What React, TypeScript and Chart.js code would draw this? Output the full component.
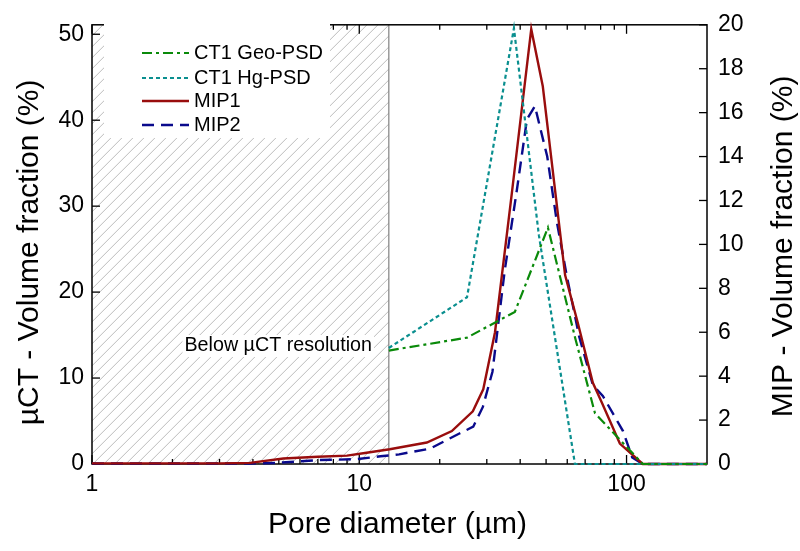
import React, { useEffect, useRef } from "react";
import { Chart, registerables } from "chart.js";
Chart.register(...registerables);

// ---- data ----
const geoX = [12.9, 25.3, 38.2, 50.8, 64.2, 76.2, 115, 200];
const geoY = [13.2, 14.7, 17.7, 27.5, 14.7, 5.9, 0, 0];

const hgX = [12.9, 25.3, 37.9, 47.0, 64.1, 100, 200];
const hgY = [13.5, 19.4, 50.7, 26.6, 0, 0, 0];

const mip1X = [1, 2, 3, 3.9, 5.2, 7, 9, 10.5, 13, 17.9, 22.2, 26.6, 29.1, 32.2, 37.2, 44, 48.6, 58.9, 65.8, 74.8, 80.8, 94.4, 115, 200];
const mip1Y = [0.03, 0.03, 0.03, 0.05, 0.25, 0.33, 0.38, 0.5, 0.67, 0.98, 1.5, 2.4, 3.4, 6.0, 12.3, 19.8, 17.2, 8.6, 6.4, 3.7, 2.8, 0.93, 0, 0];

const mip2X = [1, 2, 3, 3.9, 4.9, 7.1, 9.8, 12, 14.1, 18.4, 23.8, 26.7, 29, 31.5, 35, 38.9, 42.4, 45.4, 50.5, 54.9, 59.9, 66.5, 74.8, 81.5, 97, 105, 115, 200];
const mip2Y = [0.02, 0.02, 0.02, 0.02, 0.05, 0.18, 0.22, 0.35, 0.44, 0.7, 1.4, 1.7, 2.6, 4.2, 8.8, 12.5, 15.7, 16.3, 14.0, 11.0, 8.5, 5.8, 3.6, 3.1, 1.5, 0.3, 0, 0];

const xTickLabels = [1, 10, 100];
const xMinorTicks = [2, 3, 4, 5, 6, 7, 8, 9, 20, 30, 40, 50, 60, 70, 80, 90, 200];
const yLeftTicks = [0, 10, 20, 30, 40, 50];
const yRightTicks = [0, 2, 4, 6, 8, 10, 12, 14, 16, 18, 20];
const resolutionLimit = 12.9;

const labels = ["CT1 Geo-PSD", "CT1 Hg-PSD", "MIP1", "MIP2"];

const FONT = "'Liberation Sans', Arial, sans-serif";

const toPts = (xs: number[], ys: number[]) => xs.map((x, i) => ({ x, y: ys[i] }));

const decorPlugin = {
  id: "decor",
  beforeDatasetsDraw(chart: any) {
    const { ctx, chartArea: a, scales } = chart;
    const xs = scales.x;
    const bx = xs.getPixelForValue(resolutionLimit);
    ctx.save();
    // hatch
    ctx.save();
    ctx.beginPath();
    ctx.rect(a.left, a.top, bx - a.left, a.bottom - a.top);
    ctx.clip();
    ctx.strokeStyle = "#bcbcbc";
    ctx.lineWidth = 1;
    const h = a.bottom - a.top;
    for (let x0 = a.left - h; x0 < bx + 12; x0 += 11) {
      ctx.beginPath();
      ctx.moveTo(x0, a.bottom);
      ctx.lineTo(x0 + h, a.top);
      ctx.stroke();
    }
    ctx.restore();
    // boundary line
    ctx.strokeStyle = "#808080";
    ctx.lineWidth = 1.2;
    ctx.beginPath();
    ctx.moveTo(bx, a.top);
    ctx.lineTo(bx, a.bottom);
    ctx.stroke();
    // annotation
    ctx.font = `19.7px ${FONT}`;
    const txt = "Below \u00B5CT resolution";
    const w = ctx.measureText(txt).width;
    ctx.fillStyle = "#fff";
    ctx.fillRect(372 - w - 2, 335, w + 4, 22);
    ctx.fillStyle = "#000";
    ctx.textAlign = "right";
    ctx.textBaseline = "middle";
    ctx.fillText(txt, 372, 346);
    // frame
    ctx.strokeStyle = "#000";
    ctx.lineWidth = 1.5;
    ctx.strokeRect(a.left, a.top, a.right - a.left, a.bottom - a.top);
    // inward ticks
    ctx.lineWidth = 1.3;
    const tick = (x1: number, y1: number, x2: number, y2: number) => {
      ctx.beginPath();
      ctx.moveTo(x1, y1);
      ctx.lineTo(x2, y2);
      ctx.stroke();
    };
    xTickLabels.forEach((v) => {
      const p = xs.getPixelForValue(v);
      tick(p, a.bottom, p, a.bottom - 9);
      tick(p, a.top, p, a.top + 9);
    });
    xMinorTicks.forEach((v) => {
      const p = xs.getPixelForValue(v);
      if (p > a.right - 1) return;
      tick(p, a.bottom, p, a.bottom - 5);
      tick(p, a.top, p, a.top + 5);
    });
    yLeftTicks.forEach((v) => {
      const p = scales.y.getPixelForValue(v);
      tick(a.left, p, a.left + 8, p);
    });
    yRightTicks.forEach((v) => {
      const p = scales.y1.getPixelForValue(v);
      tick(a.right, p, a.right - 8, p);
    });
    ctx.restore();
  },
  afterDatasetsDraw(chart: any) {
    const { ctx, chartArea: a } = chart;
    ctx.save();
    // legend
    ctx.fillStyle = "#fff";
    ctx.fillRect(104, 24, 226, 114);
    const rows = [53, 78, 101, 125];
    chart.data.datasets.forEach((ds: any, i: number) => {
      const y = rows[i];
      ctx.strokeStyle = ds.borderColor;
      ctx.lineWidth = ds.borderWidth;
      ctx.setLineDash(ds.borderDash || []);
      ctx.beginPath();
      ctx.moveTo(142, y);
      ctx.lineTo(189, y);
      ctx.stroke();
      ctx.setLineDash([]);
      ctx.fillStyle = "#000";
      ctx.font = `20px ${FONT}`;
      ctx.textAlign = "left";
      ctx.textBaseline = "middle";
      ctx.fillText(ds.label, 194, y);
    });
    // axis titles
    ctx.fillStyle = "#000";
    ctx.font = `30px ${FONT}`;
    ctx.textAlign = "center";
    ctx.textBaseline = "middle";
    const cy = (a.top + a.bottom) / 2;
    ctx.save();
    ctx.translate(30, cy + 8);
    ctx.rotate(-Math.PI / 2);
    ctx.fillText("\u00B5CT - Volume fraction (%)", 0, 0);
    ctx.restore();
    ctx.save();
    ctx.translate(784, cy + 2);
    ctx.rotate(-Math.PI / 2);
    ctx.fillText("MIP - Volume fraction (%)", 0, 0);
    ctx.restore();
    ctx.fillText("Pore diameter (\u00B5m)", (a.left + a.right) / 2 - 2, 525);
    ctx.restore();
  },
};

export default function App() {
  const ref = useRef<HTMLCanvasElement | null>(null);
  useEffect(() => {
    if (!ref.current) return;
    const tickFont = { family: FONT, size: 23 };
    const noGrid = { display: false, drawTicks: false };
    const chart = new Chart(ref.current, {
      type: "line",
      data: {
        datasets: [
          {
            label: labels[0],
            data: toPts(geoX, geoY),
            borderColor: "#0a8a0a",
            borderWidth: 2.2,
            borderDash: [10, 4, 3, 4],
            yAxisID: "y",
          },
          {
            label: labels[1],
            data: toPts(hgX, hgY),
            borderColor: "#0a8f8f",
            borderWidth: 2.2,
            borderDash: [4, 3],
            yAxisID: "y",
          },
          {
            label: labels[2],
            data: toPts(mip1X, mip1Y),
            borderColor: "#990d0d",
            borderWidth: 2.4,
            borderDash: [],
            yAxisID: "y1",
          },
          {
            label: labels[3],
            data: toPts(mip2X, mip2Y),
            borderColor: "#0a0a8c",
            borderWidth: 2.4,
            borderDash: [12, 7],
            yAxisID: "y1",
          },
        ] as any,
      },
      options: {
        animation: false,
        responsive: false,
        clip: false as any,
        layout: { padding: { top: 14, left: 0, right: 0, bottom: 0 } },
        elements: { point: { radius: 0 }, line: { tension: 0 } },
        plugins: { legend: { display: false }, tooltip: { enabled: false } },
        scales: {
          x: {
            type: "logarithmic",
            min: 1,
            max: 200,
            grid: noGrid,
            border: { display: false },
            afterBuildTicks: (s: any) => {
              s.ticks = xTickLabels.map((v) => ({ value: v }));
            },
            afterFit: (s: any) => {
              s.height = 87;
            },
            ticks: {
              font: tickFont,
              color: "#000",
              padding: 7,
              maxRotation: 0,
              autoSkip: false,
              callback: (v: any) => String(v),
            },
          },
          y: {
            type: "linear",
            position: "left",
            min: 0,
            max: 51.1,
            grid: noGrid,
            border: { display: false },
            afterBuildTicks: (s: any) => {
              s.ticks = yLeftTicks.map((v) => ({ value: v }));
            },
            afterFit: (s: any) => {
              s.width = 92;
            },
            ticks: { font: tickFont, color: "#000", padding: 8 },
          },
          y1: {
            type: "linear",
            position: "right",
            min: 0,
            max: 20,
            grid: noGrid,
            border: { display: false },
            afterBuildTicks: (s: any) => {
              s.ticks = yRightTicks.map((v) => ({ value: v }));
            },
            afterFit: (s: any) => {
              s.width = 93;
            },
            ticks: { font: tickFont, color: "#000", padding: 11 },
          },
        },
      } as any,
      plugins: [decorPlugin],
    });
    return () => chart.destroy();
  }, []);
  return (
    <div style={{ position: "absolute", left: 0, top: 0, width: 800, height: 551, background: "#fff" }}>
      <canvas ref={ref} width={800} height={551} style={{ display: "block" }} />
    </div>
  );
}
